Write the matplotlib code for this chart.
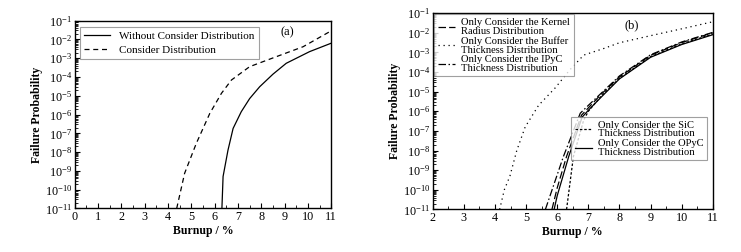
import numpy as np
import matplotlib.pyplot as plt
from matplotlib.ticker import MultipleLocator, LogLocator

plt.rcParams['font.family'] = ['Liberation Serif', 'DejaVu Serif']
plt.rcParams['mathtext.fontset'] = 'custom'
plt.rcParams['mathtext.rm'] = 'Liberation Serif'
plt.rcParams['axes.linewidth'] = 1.0

# panel (a): burnup (%) and log10 of failure probability
a_without_x = [6.31, 6.36, 6.57, 6.79, 7.14, 7.5, 7.93, 8.5, 9.07, 10.07, 11.0]
a_without_y = [-11.0, -9.3, -7.9, -6.74, -5.85, -5.15, -4.52, -3.85, -3.27, -2.65, -2.2]
a_with_x = [4.37, 4.71, 5.21, 5.79, 6.29, 6.72, 7.5, 8.64, 9.79, 10.93, 11.0]
a_with_y = [-11.0, -9.13, -7.54, -5.94, -4.87, -4.16, -3.45, -2.92, -2.39, -1.59, -1.56]

# panel (b)
kernel_x = [5.83, 6.0, 6.3, 6.78, 7.4, 8.0, 9.0, 10.0, 11.0]
kernel_y = [-11.0, -9.9, -8.3, -6.2, -5.15, -4.25, -3.15, -2.5, -2.0]
buffer_x = [4.15, 4.3, 4.48, 4.7, 4.97, 5.4, 5.94, 6.4, 6.85, 7.5, 8.0, 9.0, 10.0, 11.0]
buffer_y = [-11.0, -10.0, -9.3, -8.0, -6.8, -5.7, -4.8, -3.9, -3.14, -2.8, -2.51, -2.15, -1.8, -1.44]
ipyc_x = [5.62, 6.2, 6.74, 7.0, 7.4, 8.0, 9.0, 10.0, 11.0]
ipyc_y = [-11.0, -8.3, -6.1, -5.7, -5.1, -4.2, -3.12, -2.47, -1.98]
sic_x = [6.3, 6.52, 6.85, 7.0, 7.4, 8.0, 9.0, 10.0, 11.0]
sic_y = [-11.0, -8.3, -6.45, -6.0, -5.25, -4.32, -3.22, -2.57, -2.06]
opyc_x = [5.9, 6.0, 6.37, 6.8, 7.0, 7.4, 8.0, 9.0, 10.0, 11.0]
opyc_y = [-11.0, -10.3, -8.3, -6.3, -5.95, -5.3, -4.35, -3.25, -2.6, -2.1]

fig = plt.figure(figsize=(7.41, 2.52), dpi=100)
ax1 = fig.add_axes([0.101, 0.173, 0.346, 0.745])
ax2 = fig.add_axes([0.584, 0.169, 0.378, 0.779])


def style_axis(ax, xmin, xmax):
    ax.set_yscale('log')
    ax.set_xlim(xmin, xmax)
    ax.set_ylim(1e-11, 1e-1)
    ax.xaxis.set_major_locator(MultipleLocator(1))
    ax.xaxis.set_minor_locator(MultipleLocator(0.5))
    ax.yaxis.set_major_locator(LogLocator(base=10, numticks=20))
    ax.yaxis.set_minor_locator(LogLocator(base=10, subs=np.arange(2, 10), numticks=20))
    ax.tick_params(which='both', direction='in', top=False, right=False, labelsize=8.7, pad=2)
    ax.tick_params(which='major', length=3.5)
    ax.tick_params(which='minor', length=2)
    ax.set_xlabel('Burnup / %', fontsize=8.5, fontweight='bold', labelpad=1)
    ax.set_ylabel('Failure Probability', fontsize=8.5, fontweight='bold', labelpad=1)


def small_legend(ax, handles, loc, anchor):
    leg = ax.legend(handles=handles, loc=loc, bbox_to_anchor=anchor, fontsize=7.6,
                    fancybox=False, edgecolor='#888888', handlelength=1.6,
                    handletextpad=0.6, borderpad=0.35, labelspacing=0.05, borderaxespad=0)
    leg.get_frame().set_linewidth(0.8)
    for t in leg.get_texts():
        t.set_linespacing(0.95)
    return leg


style_axis(ax1, 0, 11)
ax1.plot(a_without_x, 10.0 ** np.array(a_without_y), color='black', lw=0.9,
         label='Without Consider Distribution')
ax1.plot(a_with_x, 10.0 ** np.array(a_with_y), color='black', lw=0.9, dashes=(4, 3),
         label='Consider Distribution')
leg = ax1.legend(loc='upper left', bbox_to_anchor=(0.02, 0.968), fontsize=8, fancybox=False,
                 edgecolor='#888888', handlelength=2.3, borderpad=0.4, labelspacing=0.35,
                 borderaxespad=0)
leg.get_frame().set_linewidth(0.8)
ax1.text(0.83, 0.94, '(a)', transform=ax1.transAxes, fontsize=9, ha='center', va='center')

style_axis(ax2, 2, 11)
l1, = ax2.plot(kernel_x, 10.0 ** np.array(kernel_y), color='black', lw=0.9, dashes=(6, 2.5),
               label='Only Consider the Kernel\nRadius Distribution')
l2, = ax2.plot(buffer_x, 10.0 ** np.array(buffer_y), color='black', lw=0.9, dashes=(1, 3),
               label='Only Consider the Buffer\nThickness Distribution')
l3, = ax2.plot(ipyc_x, 10.0 ** np.array(ipyc_y), color='black', lw=0.9, dashes=(6, 2, 1.2, 2),
               label='Only Consider the IPyC\nThickness Distribution')
l4, = ax2.plot(sic_x, 10.0 ** np.array(sic_y), color='black', lw=0.9, dashes=(2, 1.5),
               label='Only Consider the SiC\nThickness Distribution')
l5, = ax2.plot(opyc_x, 10.0 ** np.array(opyc_y), color='black', lw=0.9,
               label='Only Consider the OPyC\nThickness Distribution')
leg1 = small_legend(ax2, [l1, l2, l3], 'upper left', (0.006, 0.994))
ax2.add_artist(leg1)
small_legend(ax2, [l4, l5], 'lower right', (0.98, 0.25))
ax2.text(0.712, 0.94, '(b)', transform=ax2.transAxes, fontsize=9, ha='center', va='center')

fig.savefig('out.png', dpi=100)
